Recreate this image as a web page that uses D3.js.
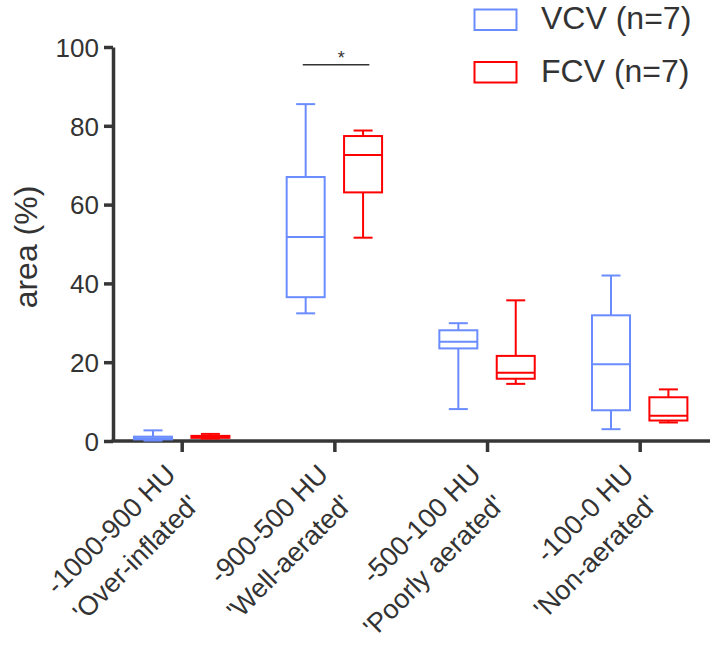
<!DOCTYPE html>
<html><head><meta charset="utf-8">
<script src="https://cdn.jsdelivr.net/npm/d3@7"></script>
<style>body{margin:0;background:#fff}svg{display:block}text{font-family:"Liberation Sans",Arial,Helvetica,sans-serif;fill:#333}</style>
</head><body><svg id="c" width="710" height="645"></svg>
<script>
const categories = ["-1000-900 HU|'Over-inflated'", "-900-500 HU|'Well-aerated'", "-500-100 HU|'Poorly aerated'", "-100-0 HU|'Non-aerated'"];
const seriesNames = ["VCV (n=7)", "FCV (n=7)"];
const seriesColors = ["#6a8cff", "#ff0000"];
// [min, q1, median, q3, max]
const vcv = [[0.1,0.4,0.7,1.1,2.7],[32.4,36.5,51.8,67.0,85.5],[8.1,23.5,25.2,28.1,29.9],[3.0,7.8,19.5,31.9,42.0]];
const fcv = [[0.6,0.8,1.0,1.3,1.8],[51.6,63.1,72.6,77.4,78.8],[14.5,15.8,17.3,21.6,35.7],[4.7,5.2,6.4,11.1,13.1]];
const yTicks = [0,20,40,60,80,100];
const sigPair = {cat:1, label:"*", y:95.5};

const svg = d3.select("#c");
const y = d3.scaleLinear().domain([0,100]).range([441,47]);
const x = d3.scalePoint().domain(categories).range([181.7,639.7]);
const off = d3.scalePoint().domain(seriesNames).range([-28.7,28.7]);
const axisColor = "#363636";

// y axis
const ya = svg.append("g").attr("transform","translate(113,0)")
  .call(d3.axisLeft(y).tickValues(yTicks).tickSize(9).tickPadding(5).tickSizeOuter(0));
ya.select(".domain").attr("stroke",axisColor).attr("stroke-width",3.5);
ya.selectAll(".tick line").attr("stroke",axisColor).attr("stroke-width",3.5);
ya.selectAll(".tick text").style("font-size","26px").attr("fill","#333").attr("dy","0.36em");

// x axis
const xa = svg.append("g").attr("transform","translate(0,441)")
  .call(d3.axisBottom(x).tickSize(11).tickFormat("").tickSizeOuter(0));
xa.select(".domain").attr("d","M111.5,0H710").attr("stroke",axisColor).attr("stroke-width",3.5);
xa.selectAll(".tick line").attr("stroke",axisColor).attr("stroke-width",3.5);

// x labels
categories.forEach(c=>{
  const [l1,l2] = c.split("|");
  const g = svg.append("g").attr("transform",`translate(${x(c)-4.5},476) rotate(-45)`);
  g.append("text").attr("text-anchor","end").style("font-size","27px").text(l1);
  g.append("text").attr("text-anchor","end").attr("x",-5).attr("y",38).style("font-size","27px").text(l2);
});

// y label
svg.append("text").attr("transform","translate(37,247) rotate(-90)").attr("text-anchor","middle")
  .style("font-size","32px").text("area (%)");

// boxes
const bw = 38, cw = 19;
[vcv,fcv].forEach((data,si)=>{
  const col = seriesColors[si];
  const g = svg.append("g").attr("stroke",col).attr("stroke-width",2).attr("fill","none");
  data.forEach((d,ci)=>{
    const cx = x(categories[ci]) + off(seriesNames[si]);
    const [mn,q1,md,q3,mx] = d;
    g.append("line").attr("x1",cx).attr("x2",cx).attr("y1",y(mx)).attr("y2",y(q3));
    g.append("line").attr("x1",cx).attr("x2",cx).attr("y1",y(q1)).attr("y2",y(mn));
    g.append("line").attr("x1",cx-cw/2).attr("x2",cx+cw/2).attr("y1",y(mx)).attr("y2",y(mx));
    g.append("line").attr("x1",cx-cw/2).attr("x2",cx+cw/2).attr("y1",y(mn)).attr("y2",y(mn));
    g.append("rect").attr("x",cx-bw/2).attr("width",bw).attr("y",y(q3)).attr("height",Math.max(0.5,y(q1)-y(q3)));
    g.append("line").attr("x1",cx-bw/2).attr("x2",cx+bw/2).attr("y1",y(md)).attr("y2",y(md));
  });
});

// significance
const sc = x(categories[sigPair.cat]);
svg.append("line").attr("x1",sc-31.6).attr("x2",sc+35).attr("y1",y(sigPair.y)).attr("y2",y(sigPair.y))
  .attr("stroke","#333").attr("stroke-width",1.5);
svg.append("text").attr("x",sc+7).attr("y",y(sigPair.y)-1).attr("text-anchor","middle").style("font-size","18px").text(sigPair.label);

// legend
seriesNames.forEach((n,i)=>{
  const yy = 9.5 + i*52.5;
  svg.append("rect").attr("x",474.5).attr("y",yy).attr("width",42).attr("height",20.5)
    .attr("fill","none").attr("stroke",seriesColors[i]).attr("stroke-width",2);
  svg.append("text").attr("x",541).attr("y",yy+19.5).style("font-size","32px").text(n);
});
</script></body></html>
